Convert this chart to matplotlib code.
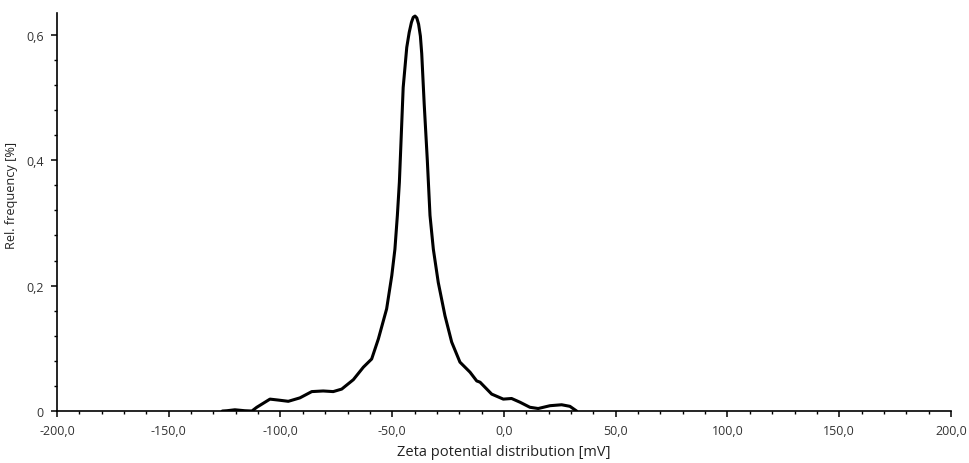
import matplotlib
matplotlib.use("Agg")
import matplotlib.pyplot as plt
from matplotlib.ticker import MultipleLocator, FuncFormatter

# Zeta potential [mV] and relative frequency [%]
zeta = [-126.0, -123.9, -120.4, -116.0, -112.8, -110.6, -104.7, -101.0, -96.5,
        -91.3, -86.0, -80.9, -76.4, -72.6, -67.4, -62.9, -59.2, -56.2, -52.5,
        -50.2, -48.8, -47.7, -46.8, -46.2, -45.1, -43.5, -42.4, -41.4, -40.6,
        -39.8, -39.0, -38.2, -37.4, -36.8, -35.7, -34.3, -33.1, -31.6, -29.4,
        -26.4, -23.4, -19.7, -15.2, -12.2, -10.7, -5.5, -0.3, 3.4, 7.2, 11.6,
        15.3, 20.6, 25.8, 29.5, 32.5]
freq = [0.0, 0.0005, 0.002, 0.0005, 0.0, 0.006, 0.019, 0.0175, 0.0155,
        0.021, 0.031, 0.032, 0.031, 0.035, 0.050, 0.070, 0.083, 0.115, 0.163,
        0.216, 0.258, 0.312, 0.365, 0.418, 0.516, 0.580, 0.604, 0.620, 0.628,
        0.630, 0.627, 0.617, 0.598, 0.570, 0.490, 0.400, 0.312, 0.258, 0.205,
        0.152, 0.110, 0.078, 0.062, 0.048, 0.046, 0.027, 0.019, 0.020, 0.014,
        0.006, 0.004, 0.0085, 0.010, 0.0075, 0.0]

plt.rcParams['font.family'] = ['Open Sans', 'DejaVu Sans']

fig = plt.figure(figsize=(9.69, 4.64), dpi=100)
ax = fig.add_axes([0.0588, 0.112, 0.9226, 0.858])

ax.plot(zeta, freq, color='black', linewidth=2.2, solid_joinstyle='round',
        solid_capstyle='round')

ax.set_xlim(-200, 200)
ax.set_ylim(0, 0.635)

ax.xaxis.set_major_locator(MultipleLocator(50))
ax.xaxis.set_minor_locator(MultipleLocator(10))
ax.yaxis.set_major_locator(MultipleLocator(0.2))
ax.yaxis.set_minor_locator(MultipleLocator(0.04))

ax.xaxis.set_major_formatter(FuncFormatter(lambda v, p: f"{v:.1f}".replace('.', ',')))
ax.yaxis.set_major_formatter(FuncFormatter(lambda v, p: '0' if abs(v) < 1e-9 else f"{v:.1f}".replace('.', ',')))

for s in ['top', 'right']:
    ax.spines[s].set_visible(False)
for s in ['left', 'bottom']:
    ax.spines[s].set_linewidth(1.2)

ax.tick_params(which='major', direction='out', length=4.5, width=1.1, labelsize=9,
               labelcolor='#333333', pad=5)
ax.tick_params(which='minor', direction='out', length=2.5, width=1.0)

ax.set_xlabel('Zeta potential distribution [mV]', fontsize=10.5, color='#222222', labelpad=5)
ax.set_ylabel('Rel. frequency [%]', fontsize=9.2, color='#222222')
ax.yaxis.set_label_coords(-0.0436, 0.543)

plt.savefig('out.png', dpi=100)
